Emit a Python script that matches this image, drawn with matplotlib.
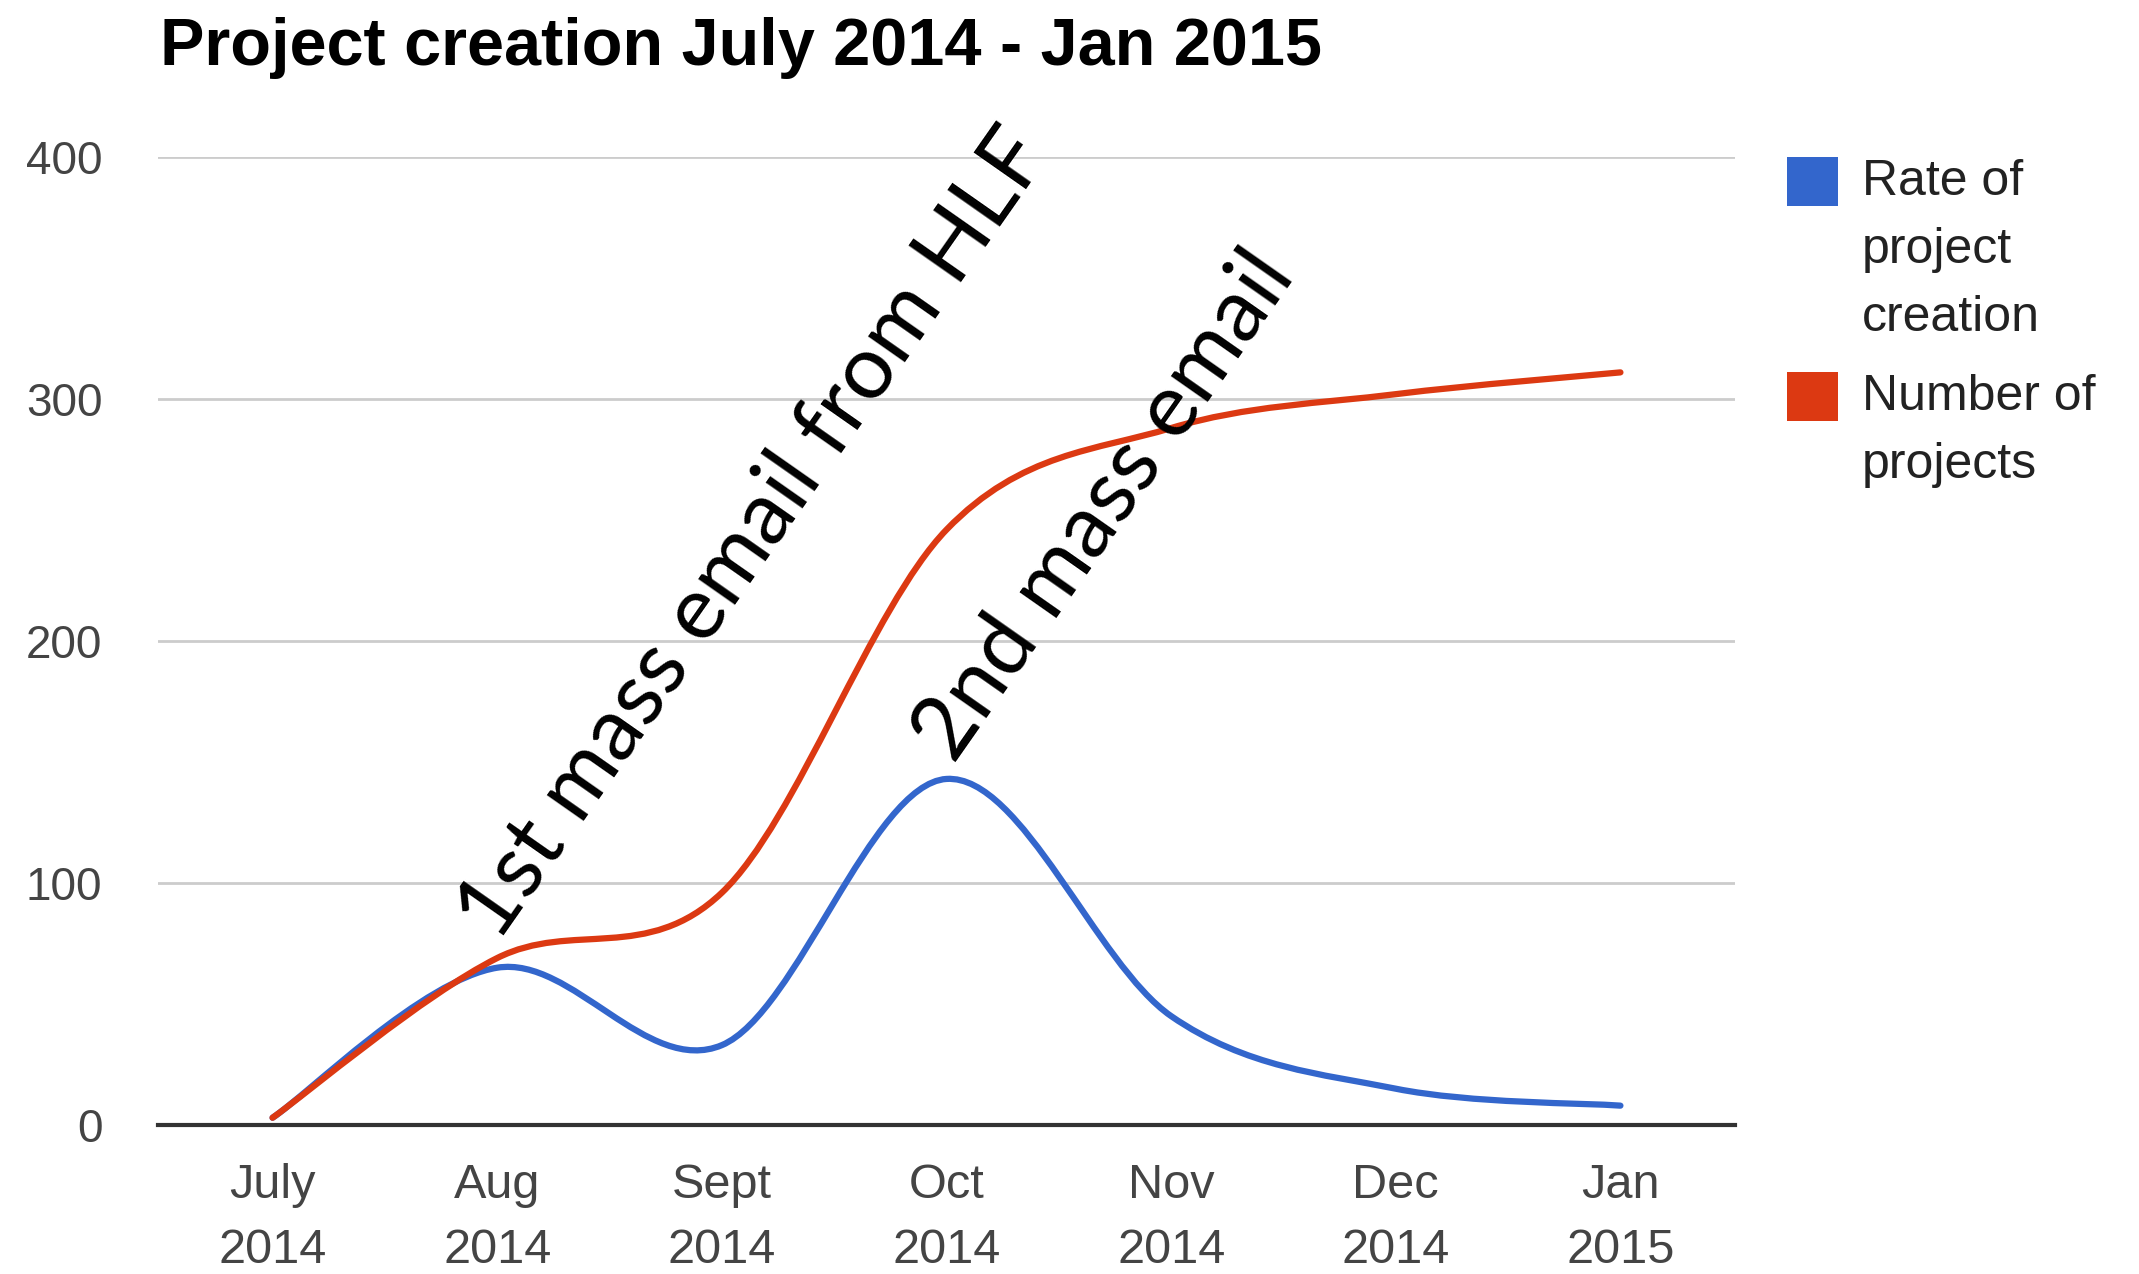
import numpy as np
import matplotlib.pyplot as plt
from matplotlib.path import Path
from matplotlib.patches import PathPatch, Rectangle

months = ['July\n2014', 'Aug\n2014', 'Sept\n2014', 'Oct\n2014', 'Nov\n2014', 'Dec\n2014', 'Jan\n2015']
rate_of_creation = [3, 65, 33, 143, 45, 15, 8]
number_of_projects = [3, 69, 96, 246, 288, 302, 311]
y_ticks = [0, 100, 200, 300, 400]

blue = '#3366cc'
red = '#dc3912'


def smooth_path(xs, ys, k=1.0 / 6):
    # catmull-rom style curve through the points, like google charts "function" curves
    xs = np.asarray(xs, dtype=float)
    ys = np.asarray(ys, dtype=float)
    px = np.concatenate([[xs[0]], xs, [xs[-1]]])
    py = np.concatenate([[ys[0]], ys, [ys[-1]]])
    verts = [(xs[0], ys[0])]
    codes = [Path.MOVETO]
    for i in range(1, len(xs)):
        j = i + 1
        c1 = (px[j - 1] + (px[j] - px[j - 2]) * k, py[j - 1] + (py[j] - py[j - 2]) * k)
        c2 = (px[j] - (px[j + 1] - px[j - 1]) * k, py[j] - (py[j + 1] - py[j - 1]) * k)
        verts += [c1, c2, (px[j], py[j])]
        codes += [Path.CURVE4] * 3
    return Path(verts, codes)


fig = plt.figure(figsize=(21.39, 12.74), dpi=100)
W, H = 2139, 1274
ax = fig.add_axes([158 / W, 1 - 1125 / H, (1735 - 158) / W, (1125 - 157) / H])

x = np.arange(len(months))
for ys, c in [(rate_of_creation, blue), (number_of_projects, red)]:
    ax.add_patch(PathPatch(smooth_path(x, ys), facecolor='none', edgecolor=c,
                           lw=4.5, capstyle='round', zorder=3, clip_on=False))

ax.set_xlim(-0.51, 6.51)
ax.set_ylim(0, 400)
ax.set_yticks(y_ticks)
ax.set_xticks(x)
ax.set_xticklabels(months, fontsize=35, color='#444444', linespacing=1.58,
                   family=['Liberation Sans Narrow', 'Liberation Sans'])
ax.tick_params(axis='x', length=0, pad=27)
ax.tick_params(axis='y', length=0, pad=40, labelsize=33, labelcolor='#444444')
for lab in ax.get_yticklabels():
    lab.set_family('Liberation Sans')
ax.grid(axis='y', color='#cccccc', lw=2)
ax.set_axisbelow(True)
for s in ['top', 'right', 'left']:
    ax.spines[s].set_visible(False)
ax.spines['bottom'].set_color('#333333')
ax.spines['bottom'].set_linewidth(3)
ax.spines['bottom'].set_zorder(4)

fig.text(160 / W, 1 - 65 / H, 'Project creation July 2014 - Jan 2015', fontsize=48,
         fontweight='bold', family=['Liberation Sans Narrow', 'Liberation Sans'],
         ha='left', va='baseline')

# annotations
ax.text(1.0, 75, '1st mass email from HLF', rotation=55, rotation_mode='anchor',
        ha='left', va='baseline', fontsize=64, family='Lato', zorder=5)
ax.text(3.03, 149, '2nd mass email', rotation=55, rotation_mode='anchor',
        ha='left', va='baseline', fontsize=64, family='Lato', zorder=5)

# legend
legend_items = [('Rate of\nproject\ncreation', blue, 157), ('Number of\nprojects', red, 372)]
for label, c, top in legend_items:
    fig.add_artist(Rectangle((1787 / W, 1 - (top + 49) / H), 51 / W, 49 / H,
                             transform=fig.transFigure, facecolor=c, edgecolor='none'))
    fig.text(1862 / W, 1 - (top + 2) / H, label, fontsize=36, color='#222222',
             family='Liberation Sans', ha='left', va='top', linespacing=1.61)

fig.savefig('out.png', dpi=100)
